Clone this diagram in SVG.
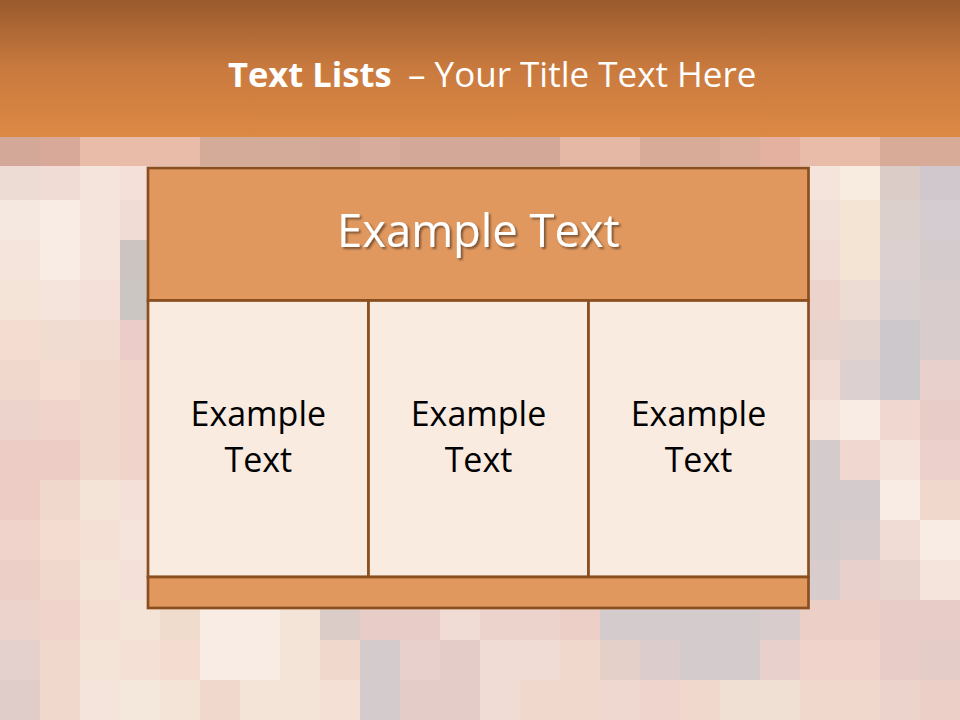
<svg xmlns="http://www.w3.org/2000/svg" width="960" height="720" viewBox="0 0 960 720">
<defs>
<linearGradient id="hdr" x1="0" y1="0" x2="0" y2="1">
<stop offset="0" stop-color="#995a2d"/>
<stop offset="0.5" stop-color="#c97a3e"/>
<stop offset="1" stop-color="#dd8945"/>
</linearGradient>
<filter id="sh" x="-10%" y="-30%" width="120%" height="160%">
<feDropShadow dx="2" dy="2" stdDeviation="1" flood-color="#000" flood-opacity="0.45"/>
</filter>
<style>
.t{font-family:"Open Sans","Liberation Sans",sans-serif}
.cell{stroke:#8b4f1f;stroke-width:2.7}
.or{fill:#e0985f}
.lt{fill:#f9ebe0}
.ct{font-size:34px;fill:#000;text-anchor:middle}
</style>
</defs>
<g id="background">
<rect width="960" height="720" fill="#f2dcd0"/>
<g id="mosaic-left">
<rect x="0" y="160" width="40" height="40" fill="#ecdcd4"/><rect x="40" y="160" width="40" height="40" fill="#f0dcd4"/><rect x="80" y="160" width="40" height="40" fill="#f4e4dc"/><rect x="120" y="160" width="40" height="40" fill="#f4e0d8"/>
<rect x="0" y="200" width="40" height="40" fill="#f4e8e0"/><rect x="40" y="200" width="40" height="40" fill="#f8ece4"/><rect x="80" y="200" width="40" height="40" fill="#f4e4dc"/><rect x="120" y="200" width="40" height="40" fill="#f0dcd4"/>
<rect x="0" y="240" width="40" height="40" fill="#f4e4dc"/><rect x="40" y="240" width="40" height="40" fill="#f8ece4"/><rect x="80" y="240" width="40" height="40" fill="#f4e4dc"/><rect x="120" y="240" width="40" height="40" fill="#ccc4c0"/>
<rect x="0" y="280" width="40" height="40" fill="#f4e4d8"/><rect x="40" y="280" width="40" height="40" fill="#f4e4dc"/><rect x="80" y="280" width="40" height="40" fill="#f4e0d8"/><rect x="120" y="280" width="40" height="40" fill="#ccc6c2"/>
<rect x="0" y="320" width="40" height="40" fill="#f4dcd0"/><rect x="40" y="320" width="40" height="40" fill="#f0dcd0"/><rect x="80" y="320" width="40" height="40" fill="#f2dcd2"/><rect x="120" y="320" width="40" height="40" fill="#ecccc8"/>
<rect x="0" y="360" width="40" height="40" fill="#f0d8cc"/><rect x="40" y="360" width="40" height="40" fill="#f4dcd0"/><rect x="80" y="360" width="40" height="40" fill="#f0d8cc"/><rect x="120" y="360" width="40" height="40" fill="#f0d4cc"/>
<rect x="0" y="400" width="40" height="40" fill="#ecd4cc"/><rect x="40" y="400" width="40" height="40" fill="#f0d4cc"/><rect x="80" y="400" width="40" height="40" fill="#f0d8cc"/><rect x="120" y="400" width="40" height="40" fill="#f0d4cc"/>
<rect x="0" y="440" width="40" height="40" fill="#ecccc4"/><rect x="40" y="440" width="40" height="40" fill="#ecccc4"/><rect x="80" y="440" width="40" height="40" fill="#f0d8cc"/><rect x="120" y="440" width="40" height="40" fill="#f0d4cc"/>
<rect x="0" y="480" width="40" height="40" fill="#ecccc4"/><rect x="40" y="480" width="40" height="40" fill="#f0d8cc"/><rect x="80" y="480" width="40" height="40" fill="#f4e4d8"/><rect x="120" y="480" width="40" height="40" fill="#f4e0d8"/>
<rect x="0" y="520" width="40" height="40" fill="#f0d4cc"/><rect x="40" y="520" width="40" height="40" fill="#f4dcd0"/><rect x="80" y="520" width="40" height="40" fill="#f4e0d4"/><rect x="120" y="520" width="40" height="40" fill="#f4e4dc"/>
<rect x="0" y="560" width="40" height="40" fill="#ecd0c8"/><rect x="40" y="560" width="40" height="40" fill="#f0d8cc"/><rect x="80" y="560" width="40" height="40" fill="#f4e4d8"/><rect x="120" y="560" width="40" height="40" fill="#f4e0d8"/>
</g>
<g id="mosaic-right">
<rect x="800" y="160" width="40" height="40" fill="#f4e4dc"/><rect x="840" y="160" width="40" height="40" fill="#f8ece0"/><rect x="880" y="160" width="40" height="40" fill="#dcccc8"/><rect x="920" y="160" width="40" height="40" fill="#d0c8cc"/>
<rect x="800" y="200" width="40" height="40" fill="#f0e0d8"/><rect x="840" y="200" width="40" height="40" fill="#f4e4d4"/><rect x="880" y="200" width="40" height="40" fill="#dcd0cc"/><rect x="920" y="200" width="40" height="40" fill="#d4ccd0"/>
<rect x="800" y="240" width="40" height="40" fill="#f0dcd4"/><rect x="840" y="240" width="40" height="40" fill="#f4e4d4"/><rect x="880" y="240" width="40" height="40" fill="#dcd0d0"/><rect x="920" y="240" width="40" height="40" fill="#d4cccc"/>
<rect x="800" y="280" width="40" height="40" fill="#ecd4cc"/><rect x="840" y="280" width="40" height="40" fill="#ecdcd4"/><rect x="880" y="280" width="40" height="40" fill="#d8d0d0"/><rect x="920" y="280" width="40" height="40" fill="#d8cccc"/>
<rect x="800" y="320" width="40" height="40" fill="#e8d4cc"/><rect x="840" y="320" width="40" height="40" fill="#e4d4d0"/><rect x="880" y="320" width="40" height="40" fill="#ccc8cc"/><rect x="920" y="320" width="40" height="40" fill="#d8cccc"/>
<rect x="800" y="360" width="40" height="40" fill="#f0dcd4"/><rect x="840" y="360" width="40" height="40" fill="#dcd0d0"/><rect x="880" y="360" width="40" height="40" fill="#ccc8cc"/><rect x="920" y="360" width="40" height="40" fill="#e8d0cc"/>
<rect x="800" y="400" width="40" height="40" fill="#f4e4dc"/><rect x="840" y="400" width="40" height="40" fill="#f8ece4"/><rect x="880" y="400" width="40" height="40" fill="#f0d8d0"/><rect x="920" y="400" width="40" height="40" fill="#e8ccc8"/>
<rect x="800" y="440" width="40" height="40" fill="#d4cccc"/><rect x="840" y="440" width="40" height="40" fill="#f0d8d0"/><rect x="880" y="440" width="40" height="40" fill="#f4e4dc"/><rect x="920" y="440" width="40" height="40" fill="#ecd0cc"/>
<rect x="800" y="480" width="40" height="40" fill="#d4cccc"/><rect x="840" y="480" width="40" height="40" fill="#d4cccc"/><rect x="880" y="480" width="40" height="40" fill="#f8ece4"/><rect x="920" y="480" width="40" height="40" fill="#f0d8cc"/>
<rect x="800" y="520" width="40" height="40" fill="#d4cccc"/><rect x="840" y="520" width="40" height="40" fill="#d8cccc"/><rect x="880" y="520" width="40" height="40" fill="#f0dcd4"/><rect x="920" y="520" width="40" height="40" fill="#f8ece4"/>
<rect x="800" y="560" width="40" height="40" fill="#d8cccc"/><rect x="840" y="560" width="40" height="40" fill="#e8d0cc"/><rect x="880" y="560" width="40" height="40" fill="#e8d4cc"/><rect x="920" y="560" width="40" height="40" fill="#f4e4dc"/>
</g>
<g id="mosaic-bottom">
<rect x="0" y="600" width="40" height="40" fill="#ecd4cc"/><rect x="40" y="600" width="40" height="40" fill="#f0d4cc"/><rect x="80" y="600" width="40" height="40" fill="#f4e0d4"/><rect x="120" y="600" width="40" height="40" fill="#f4e4d8"/><rect x="160" y="600" width="40" height="40" fill="#f0dccc"/><rect x="200" y="600" width="40" height="40" fill="#f8ece4"/><rect x="240" y="600" width="40" height="40" fill="#f8ece4"/><rect x="280" y="600" width="40" height="40" fill="#f4e4d8"/><rect x="320" y="600" width="40" height="40" fill="#dcccc8"/><rect x="360" y="600" width="40" height="40" fill="#e8ccc8"/><rect x="400" y="600" width="40" height="40" fill="#e8ccc8"/><rect x="440" y="600" width="40" height="40" fill="#f0dcd4"/><rect x="480" y="600" width="40" height="40" fill="#ecd4cc"/><rect x="520" y="600" width="40" height="40" fill="#ecd4cc"/><rect x="560" y="600" width="40" height="40" fill="#ecd0c8"/><rect x="600" y="600" width="40" height="40" fill="#d4cccc"/><rect x="640" y="600" width="40" height="40" fill="#d4cccc"/><rect x="680" y="600" width="40" height="40" fill="#d4cccc"/><rect x="720" y="600" width="40" height="40" fill="#d4cccc"/><rect x="760" y="600" width="40" height="40" fill="#d8cccc"/><rect x="800" y="600" width="40" height="40" fill="#ecd0c8"/><rect x="840" y="600" width="40" height="40" fill="#ecd0c8"/><rect x="880" y="600" width="40" height="40" fill="#e8ccc8"/><rect x="920" y="600" width="40" height="40" fill="#e8ccc8"/>
<rect x="0" y="640" width="40" height="40" fill="#e4d0cc"/><rect x="40" y="640" width="40" height="40" fill="#f0d8cc"/><rect x="80" y="640" width="40" height="40" fill="#f4e4d8"/><rect x="120" y="640" width="40" height="40" fill="#f4e0d4"/><rect x="160" y="640" width="40" height="40" fill="#f4dcd0"/><rect x="200" y="640" width="40" height="40" fill="#f8ece4"/><rect x="240" y="640" width="40" height="40" fill="#f8ece4"/><rect x="280" y="640" width="40" height="40" fill="#f4e4d8"/><rect x="320" y="640" width="40" height="40" fill="#f0d8cc"/><rect x="360" y="640" width="40" height="40" fill="#d4cccc"/><rect x="400" y="640" width="40" height="40" fill="#e8d0cc"/><rect x="440" y="640" width="40" height="40" fill="#e4ccc8"/><rect x="480" y="640" width="40" height="40" fill="#f0dcd4"/><rect x="520" y="640" width="40" height="40" fill="#f0dcd4"/><rect x="560" y="640" width="40" height="40" fill="#f0d8cc"/><rect x="600" y="640" width="40" height="40" fill="#e4d0c8"/><rect x="640" y="640" width="40" height="40" fill="#dccccc"/><rect x="680" y="640" width="40" height="40" fill="#d4cccc"/><rect x="720" y="640" width="40" height="40" fill="#d4cccc"/><rect x="760" y="640" width="40" height="40" fill="#e8d0cc"/><rect x="800" y="640" width="40" height="40" fill="#f0d4cc"/><rect x="840" y="640" width="40" height="40" fill="#f0d4cc"/><rect x="880" y="640" width="40" height="40" fill="#e8ccc8"/><rect x="920" y="640" width="40" height="40" fill="#e4ccc8"/>
<rect x="0" y="680" width="40" height="40" fill="#e0ccc8"/><rect x="40" y="680" width="40" height="40" fill="#f0d8cc"/><rect x="80" y="680" width="40" height="40" fill="#f4e4dc"/><rect x="120" y="680" width="40" height="40" fill="#f4e8dc"/><rect x="160" y="680" width="40" height="40" fill="#f4e4d8"/><rect x="200" y="680" width="40" height="40" fill="#f0d8cc"/><rect x="240" y="680" width="40" height="40" fill="#f4e4d8"/><rect x="280" y="680" width="40" height="40" fill="#f4e4d8"/><rect x="320" y="680" width="40" height="40" fill="#f4e0d4"/><rect x="360" y="680" width="40" height="40" fill="#d4cccc"/><rect x="400" y="680" width="40" height="40" fill="#e4ccc8"/><rect x="440" y="680" width="40" height="40" fill="#e4ccc8"/><rect x="480" y="680" width="40" height="40" fill="#f0dcd4"/><rect x="520" y="680" width="40" height="40" fill="#f0d8cc"/><rect x="560" y="680" width="40" height="40" fill="#f0d8cc"/><rect x="600" y="680" width="40" height="40" fill="#eed8d0"/><rect x="640" y="680" width="40" height="40" fill="#eed4cc"/><rect x="680" y="680" width="40" height="40" fill="#f0d8cc"/><rect x="720" y="680" width="40" height="40" fill="#f0e0d4"/><rect x="760" y="680" width="40" height="40" fill="#f0e0d4"/><rect x="800" y="680" width="40" height="40" fill="#f0d8cc"/><rect x="840" y="680" width="40" height="40" fill="#f0d8cc"/><rect x="880" y="680" width="40" height="40" fill="#ecd4cc"/><rect x="920" y="680" width="40" height="40" fill="#ecd0c8"/>
</g>
<g id="mosaic-band">
<rect x="0" y="137" width="40" height="29" fill="#d4a898"/><rect x="40" y="137" width="40" height="29" fill="#d8a898"/><rect x="80" y="137" width="40" height="29" fill="#e8bca8"/><rect x="120" y="137" width="40" height="29" fill="#e8bca8"/><rect x="160" y="137" width="40" height="29" fill="#e8bca8"/><rect x="200" y="137" width="40" height="29" fill="#d4aa98"/><rect x="240" y="137" width="40" height="29" fill="#d4aa98"/><rect x="280" y="137" width="40" height="29" fill="#d4aa98"/><rect x="320" y="137" width="40" height="29" fill="#d4a898"/><rect x="360" y="137" width="40" height="29" fill="#d8ac9c"/><rect x="400" y="137" width="40" height="29" fill="#d4a898"/><rect x="440" y="137" width="40" height="29" fill="#d4a898"/><rect x="480" y="137" width="40" height="29" fill="#d4a898"/><rect x="520" y="137" width="40" height="29" fill="#d4a898"/><rect x="560" y="137" width="40" height="29" fill="#e4b8a4"/><rect x="600" y="137" width="40" height="29" fill="#e4b8a4"/><rect x="640" y="137" width="40" height="29" fill="#d8aa98"/><rect x="680" y="137" width="40" height="29" fill="#d8aa98"/><rect x="720" y="137" width="40" height="29" fill="#dcae9c"/><rect x="760" y="137" width="40" height="29" fill="#e4b0a0"/><rect x="800" y="137" width="40" height="29" fill="#e8bca8"/><rect x="840" y="137" width="40" height="29" fill="#e8bca8"/><rect x="880" y="137" width="40" height="29" fill="#d8aa98"/><rect x="920" y="137" width="40" height="29" fill="#d8aa98"/>
</g>
<rect id="header-bar" x="0" y="0" width="960" height="137" fill="url(#hdr)"/>
</g>
<g id="title" class="t" fill="#fff">
<text x="228" y="87" font-size="34.5px" font-weight="bold">Text Lists</text>
<text x="408" y="87" font-size="35px">– Your Title Text Here</text>
</g>
<g id="table">
<g id="node-header">
<rect class="cell or" x="148" y="168" width="660.5" height="132.5"/>
<text class="t" x="478.4" y="247" font-size="45.3px" fill="#fff" text-anchor="middle" filter="url(#sh)">Example Text</text>
</g>
<g id="node-col1">
<rect class="cell lt" x="148" y="300.5" width="220.5" height="276.5"/>
<text class="t ct" x="258.3" y="426">Example</text>
<text class="t ct" x="258.3" y="471.5">Text</text>
</g>
<g id="node-col2">
<rect class="cell lt" x="368.5" y="300.5" width="220" height="276.5"/>
<text class="t ct" x="478.5" y="426">Example</text>
<text class="t ct" x="478.5" y="471.5">Text</text>
</g>
<g id="node-col3">
<rect class="cell lt" x="588.5" y="300.5" width="220" height="276.5"/>
<text class="t ct" x="698.5" y="426">Example</text>
<text class="t ct" x="698.5" y="471.5">Text</text>
</g>
<g id="node-footer">
<rect class="cell or" x="148" y="577" width="660.5" height="31"/>
</g>
</g>
</svg>
